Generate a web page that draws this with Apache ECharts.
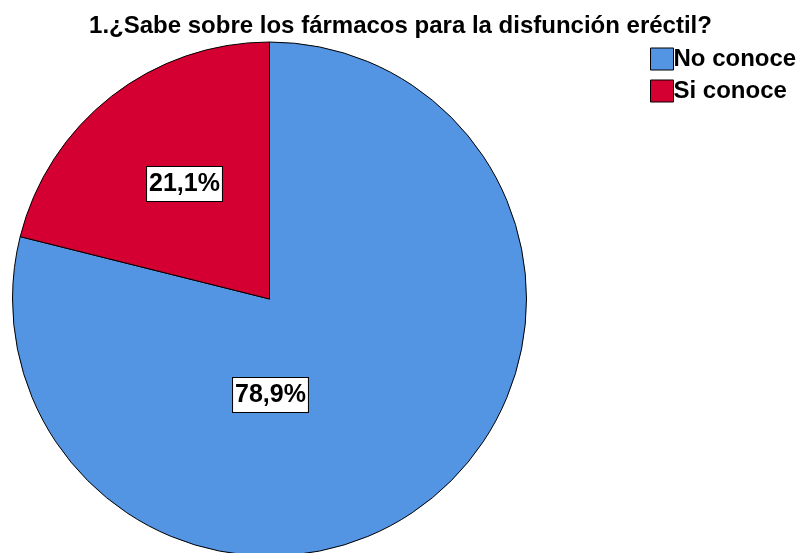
<!DOCTYPE html>
<html>
<head>
<meta charset="utf-8">
<script src="https://cdn.jsdelivr.net/npm/echarts@6/dist/echarts.min.js"></script>
<style>
  html, body { margin: 0; padding: 0; background: #fff; }
  #chart { width: 801px; height: 553px; }
</style>
</head>
<body>
<div id="chart"></div>
<script>
  var categories = ["No conoce", "Si conoce"];
  var percentValues = [78.9, 21.1];
  var sliceColors = ["#5394e3", "#d40031"];

  // label anchor points, offset from the pie centre (px)
  var labelOffsets = [[1, 96], [-85, -115]];
  var centre = [269.5, 299];

  var chart = echarts.init(document.getElementById("chart"), null, { renderer: "canvas" });

  var records = categories.map(function(name, i) {
    return { name: name, value: percentValues[i], itemStyle: { color: sliceColors[i] } };
  });

  chart.setOption({
    animation: false,
    title: {
      text: "1.¿Sabe sobre los fármacos para la disfunción eréctil?",
      left: "center",
      top: 9,
      textStyle: {
        fontFamily: "Liberation Sans",
        fontWeight: "bold",
        fontSize: 24,
        color: "#000"
      }
    },
    legend: {
      orient: "vertical",
      left: 645,
      top: 42,
      itemWidth: 23,
      itemHeight: 22,
      itemGap: 8,
      icon: "rect",
      selectedMode: false,
      data: categories,
      itemStyle: { borderColor: "#000", borderWidth: 1 },
      textStyle: {
        fontFamily: "Liberation Sans",
        fontWeight: "bold",
        fontSize: 24,
        lineHeight: 22,
        color: "#000",
        padding: [0, 0, 0, -5]
      }
    },
    series: [
      {
        type: "pie",
        center: centre,
        radius: 257,
        startAngle: 90,
        clockwise: true,
        silent: true,
        data: records,
        itemStyle: { borderColor: "#000", borderWidth: 1 },
        label: {
          show: true,
          position: "inside",
          formatter: function(p) {
            return p.value.toFixed(1).replace(".", ",") + "%";
          },
          fontFamily: "Liberation Sans",
          fontWeight: "bold",
          fontSize: 25,
          color: "#000",
          backgroundColor: "#fff",
          borderColor: "#000",
          borderWidth: 1,
          padding: [6, 2, 3, 2],
          align: "center",
          verticalAlign: "middle"
        },
        labelLine: { show: false },
        labelLayout: function(params) {
          var off = labelOffsets[params.dataIndex];
          return {
            x: centre[0] + off[0],
            y: centre[1] + off[1],
            align: "center",
            verticalAlign: "middle"
          };
        }
      }
    ]
  });
</script>
</body>
</html>
